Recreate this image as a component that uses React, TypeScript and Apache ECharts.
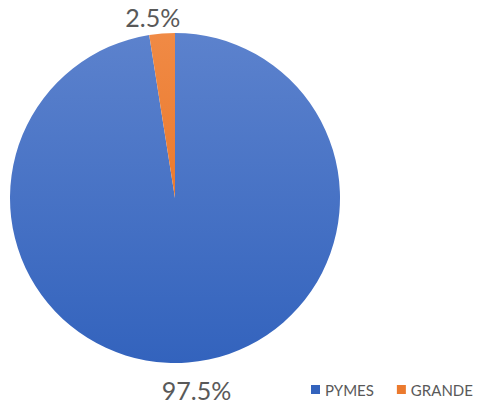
import React, { useEffect, useRef } from "react";
import * as echarts from "echarts";

const categories = ["PYMES", "GRANDE"];
const values = [97.5, 2.5];
const colorsTop = ["#5c82cd", "#f08a45"];
const colorsBottom = ["#3363bd", "#eb7a2e"];

export default function App() {
  const ref = useRef<HTMLDivElement>(null);
  useEffect(() => {
    if (!ref.current) return;
    const chart = echarts.init(ref.current, undefined, { renderer: "svg" });
    const data = categories.map((name, i) => ({
      name,
      value: values[i],
      itemStyle: {
        color: new echarts.graphic.LinearGradient(0, 0, 0, 1, [
          { offset: 0, color: colorsTop[i] },
          { offset: 1, color: colorsBottom[i] },
        ]),
      },
    }));
    chart.setOption({
      animation: false,
      backgroundColor: "#ffffff",
      textStyle: { fontFamily: "Lato" },
      legend: {
        data: categories.map((name, i) => ({
          name,
          itemStyle: { color: colorsBottom[i] },
        })),
        left: 306,
        top: 377,
        width: 180,
        icon: "rect",
        itemWidth: 9,
        itemHeight: 9,
        itemGap: 23,
        textStyle: { color: "#595959", fontSize: 15, fontFamily: "Lato" },
      },
      series: [
        {
          type: "pie",
          center: [175, 198],
          radius: 165,
          startAngle: 90,
          clockwise: true,
          avoidLabelOverlap: false,
          data,
          label: {
            show: true,
            position: "outside",
            formatter: (p: any) => p.value.toFixed(1) + "%",
            color: "#595959",
            fontSize: 25,
            fontFamily: "Lato",
          },
          labelLine: { show: false, length: 10, length2: 0 },
          labelLayout: (p: any) => {
            if (p.dataIndex === 1) return { dx: 24, dy: -7 };
            return { dx: -32, dy: 18 };
          },
          emphasis: { disabled: true },
        },
      ],
    });
    return () => chart.dispose();
  }, []);
  return (
    <div
      ref={ref}
      style={{ position: "fixed", left: 0, top: 0, width: 486, height: 412 }}
    />
  );
}
